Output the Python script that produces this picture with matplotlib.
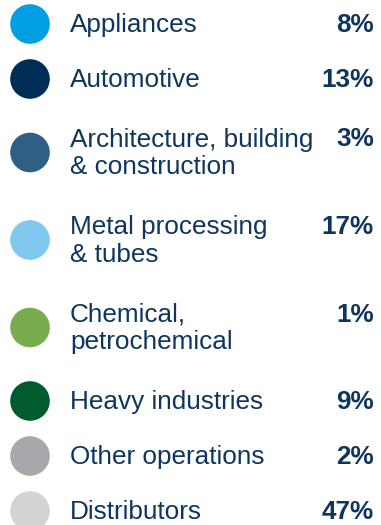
import matplotlib.pyplot as plt
from matplotlib.patches import Circle

# Sales split by end market
labels = [
    "Appliances",
    "Automotive",
    "Architecture, building\n& construction",
    "Metal processing\n& tubes",
    "Chemical,\npetrochemical",
    "Heavy industries",
    "Other operations",
    "Distributors",
]
shares = [8, 13, 3, 17, 1, 9, 2, 47]
colors = ["#009FE3", "#002D56", "#2F5F87", "#80C8F0",
          "#77AD4F", "#005C2F", "#A6A8AB", "#D1D3D4"]

TEXT = "#0D3560"
W, H = 381, 525

fig = plt.figure(figsize=(W / 100, H / 100), dpi=100)
ax = fig.add_axes([0, 0, 1, 1])
ax.set_xlim(0, W)
ax.set_ylim(H, 0)
ax.axis("off")

plt.rcParams["font.family"] = ["Liberation Sans", "DejaVu Sans"]

line_h = 28
y = 32
for i, (lab, pct, col) in enumerate(zip(labels, shares, colors)):
    lines = lab.split("\n")
    n = len(lines)
    cy = y - 8 + (n - 1) * line_h / 2
    ax.add_patch(Circle((30, cy), 19.8, color=col, lw=0))
    for k, ln in enumerate(lines):
        ax.text(70, y + k * line_h, ln, fontsize=18.8, color=TEXT,
                va="baseline", ha="left")
    ax.text(374, y, f"{pct}%", fontsize=18.8, color=TEXT,
            fontweight="bold", va="baseline", ha="right")
    # step down to the next row, a bit more room around two-line labels
    if i + 1 < len(labels):
        nxt = len(labels[i + 1].split("\n"))
        gap = 59.5 if (n > 1 or nxt > 1) else 55
        y += (n - 1) * line_h + gap

fig.savefig("out.png", dpi=100)
